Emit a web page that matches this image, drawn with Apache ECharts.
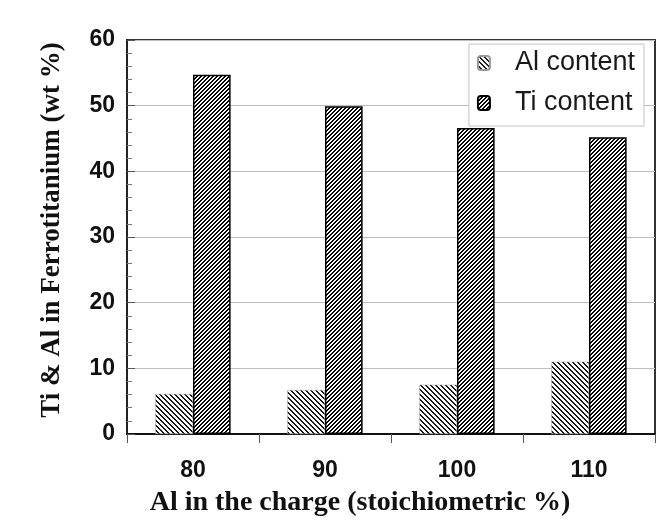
<!DOCTYPE html>
<html>
<head>
<meta charset="utf-8">
<script src="https://cdn.jsdelivr.net/npm/echarts@6/dist/echarts.min.js"></script>
<style>
  html, body { margin: 0; padding: 0; background: #ffffff; }
  #chart { width: 670px; height: 529px; }
</style>
</head>
<body>
<div id="chart"></div>
<script>
// Al added to the charge (% of stoichiometric) and resulting alloy composition
var categories = ['80', '90', '100', '110'];
var alContent = [6.1, 6.7, 7.5, 11.0];
var tiContent = [54.7, 49.9, 46.6, 45.2];
var seriesNames = ['Al content', 'Ti content'];

// Pixel-exact diagonal hatch tile: dir = 1 gives "/" stripes, dir = -1 gives "\" stripes
function hatch(period, ink, dir, rgb) {
  var c = document.createElement('canvas');
  c.width = period; c.height = period;
  var g = c.getContext('2d');
  var img = g.createImageData(period, period);
  for (var y = 0; y < period; y++) {
    for (var x = 0; x < period; x++) {
      var t = dir > 0 ? (x + y) : (x - y + period * 4);
      var on = (t % period) < ink;
      var i = (y * period + x) * 4;
      img.data[i]     = on ? rgb[0] : 255;
      img.data[i + 1] = on ? rgb[1] : 255;
      img.data[i + 2] = on ? rgb[2] : 255;
      img.data[i + 3] = 255;
    }
  }
  g.putImageData(img, 0, 0);
  return c;
}

var alPattern = { image: hatch(5, 2, -1, [25, 25, 25]), repeat: 'repeat' };
var tiPattern = { image: hatch(4, 2, 1, [0, 0, 0]), repeat: 'repeat' };

var chart = echarts.init(document.getElementById('chart'), null, { renderer: 'canvas' });

chart.setOption({
  backgroundColor: '#ffffff',
  animation: false,
  grid: {
    left: 127, right: 15, top: 40, bottom: 95,
    show: true, borderColor: '#333333', borderWidth: 2, backgroundColor: 'transparent'
  },
  legend: {
    orient: 'vertical',
    right: 26, top: 44,
    padding: [5, 9, 9, 8],
    itemGap: 12,
    itemWidth: 12, itemHeight: 14,
    backgroundColor: '#ffffff',
    borderColor: '#c4c4c4', borderWidth: 1,
    textStyle: {
      fontFamily: 'Liberation Sans, Arial, sans-serif',
      fontSize: 27, lineHeight: 28, color: '#1a1a1a',
      padding: [0, 0, 0, 20]
    },
    data: seriesNames
  },
  xAxis: {
    type: 'category',
    data: categories,
    name: 'Al in the charge (stoichiometric %)',
    nameLocation: 'middle',
    nameGap: 55,
    nameTextStyle: {
      fontFamily: 'Liberation Serif, Times New Roman, serif',
      fontWeight: 'bold', fontSize: 28, color: '#111111',
      padding: [0, 62, 0, 0]
    },
    axisLine: { lineStyle: { color: '#111111', width: 2 } },
    axisTick: { show: true, inside: false, length: 9, lineStyle: { color: '#555555', width: 1 } },
    axisLabel: {
      margin: 25,
      fontFamily: 'Liberation Sans, Arial, sans-serif',
      fontWeight: 'bold', fontSize: 23, color: '#111111'
    },
    splitLine: { show: false }
  },
  yAxis: {
    type: 'value',
    min: 0, max: 60, interval: 10,
    name: 'Ti & Al in Ferrotitanium (wt %)',
    nameLocation: 'middle',
    nameGap: 61,
    nameTextStyle: {
      fontFamily: 'Liberation Serif, Times New Roman, serif',
      fontWeight: 'bold', fontSize: 27, color: '#111111',
      padding: [0, 0, 0, 14]
    },
    axisLine: { show: true, lineStyle: { color: '#222222', width: 2 } },
    axisTick: { show: true, inside: true, length: 8, lineStyle: { color: '#555555', width: 1 } },
    minorTick: { show: true, splitNumber: 5, length: 5, lineStyle: { color: '#777777', width: 1 } },
    axisLabel: {
      margin: 12,
      fontFamily: 'Liberation Sans, Arial, sans-serif',
      fontWeight: 'bold', fontSize: 23, color: '#111111'
    },
    splitLine: { show: true, lineStyle: { color: '#bdbdbd', width: 1 } }
  },
  series: [
    {
      name: seriesNames[0],
      type: 'bar',
      data: alContent,
      barGap: '0%',
      barCategoryGap: '43%',
      itemStyle: { color: alPattern, borderColor: '#9a9a9a', borderWidth: 0.5 }
    },
    {
      name: seriesNames[1],
      type: 'bar',
      data: tiContent,
      barGap: '0%',
      barCategoryGap: '43%',
      itemStyle: { color: tiPattern, borderColor: '#000000', borderWidth: 1.5 }
    }
  ]
});
</script>
</body>
</html>
